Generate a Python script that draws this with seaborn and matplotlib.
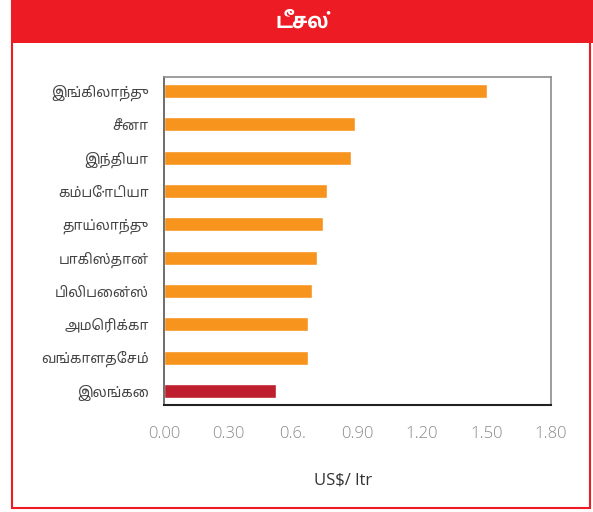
import matplotlib
import matplotlib.pyplot as plt
import seaborn as sns
import pandas as pd
from matplotlib.patches import Rectangle

matplotlib.use('Agg')

countries = ['இங்கிலாந்து', 'சீனா', 'இந்தியா', 'கம்போடியா', 'தாய்லாந்து',
             'பாகிஸ்தான்', 'பிலிபைன்ஸ்', 'அமெரிக்கா', 'வங்காளதேசம்', 'இலங்கை']
price = [1.50, 0.89, 0.87, 0.76, 0.74, 0.71, 0.69, 0.67, 0.67, 0.52]
xticks = [0.0, 0.3, 0.6, 0.9, 1.2, 1.5, 1.8]
xtick_labels = ['0.00', '0.30', '0.6.', '0.90', '1.20', '1.50', '1.80']
title = 'டீசல்'
unit = 'US$/ ltr'

orange = '#F7941D'
red = '#BE1E2D'
colors = [red if c == 'இலங்கை' else orange for c in countries]

df = pd.DataFrame({'country': countries, 'price': price})

sns.set_style('white')
tamil = ['Noto Sans Tamil', 'DejaVu Sans']

fig = plt.figure(figsize=(5.93, 5.12), dpi=100)

# red frame + header band
fig.patches.append(Rectangle((12 / 593, 4 / 512), 578 / 593, 508 / 512, transform=fig.transFigure,
                             fill=False, edgecolor='#ED1C24', linewidth=1.5))
fig.patches.append(Rectangle((12 / 593, 469 / 512), 581 / 593, 43 / 512, transform=fig.transFigure,
                             facecolor='#ED1C24', edgecolor='none'))
fig.text(302 / 593, 490 / 512, title, color='white', fontsize=15, fontweight='bold',
         family=['Hind Madurai', 'Noto Sans Tamil', 'DejaVu Sans'], ha='center', va='center')

ax = fig.add_axes([164 / 593, 107 / 512, 387 / 593, 328 / 512])
sns.barplot(data=df, x='price', y='country', hue='country', palette=colors,
            legend=False, width=0.42, saturation=1, ax=ax)

ax.set_xlim(0, 1.8)
ax.set_ylim(len(countries) - 1 + 0.42, -0.42)
ax.set_xticks(xticks)
ax.set_xticklabels(xtick_labels, family=['Open Sans', 'DejaVu Sans'], fontweight='light',
                   fontsize=12, color='#8a8a8a')
ax.set_yticks(range(len(countries)))
ax.set_yticklabels(countries, family=tamil, fontsize=10, color='#444444')
ax.tick_params(axis='x', length=0, pad=15)
ax.tick_params(axis='y', length=0, pad=11)
ax.set_xlabel('')
ax.set_ylabel('')

for side in ['top', 'right']:
    ax.spines[side].set_color('#8c8c8c')
    ax.spines[side].set_linewidth(1.2)
ax.spines['left'].set_color('#555555')
ax.spines['left'].set_linewidth(1.2)
ax.spines['bottom'].set_color('#222222')
ax.spines['bottom'].set_linewidth(1.5)

fig.text(343 / 593, 32 / 512, unit, family=['Open Sans', 'DejaVu Sans'], fontsize=12,
         color='#333333', ha='center', va='center')

fig.savefig('out.png', dpi=100)
